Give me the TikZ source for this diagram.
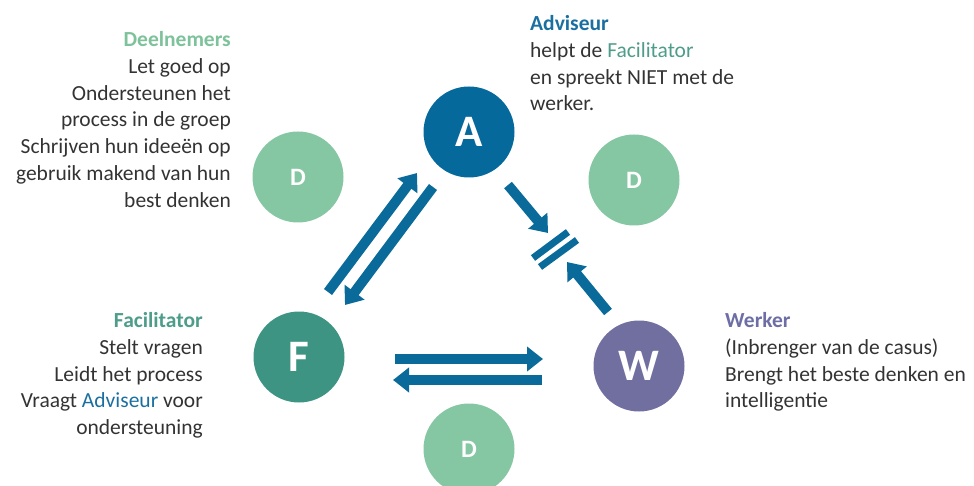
\documentclass[tikz,border=0pt]{standalone}
\usepackage{fontspec}
\setmainfont{Carlito}
\usetikzlibrary{arrows.meta}
\definecolor{cA}{HTML}{05699C}
\definecolor{cD}{HTML}{85C7A2}
\definecolor{cF}{HTML}{3E9482}
\definecolor{cW}{HTML}{716FA0}
\definecolor{cArr}{HTML}{0A6A9A}
\definecolor{txt}{HTML}{333333}
\definecolor{tD}{HTML}{7DC29B}
\definecolor{tA}{HTML}{1A6FA0}
\definecolor{tF}{HTML}{4E9C8A}
\definecolor{tW}{HTML}{6E6EA6}
\tikzset{
  bigcirc/.style={circle, minimum size=91pt, inner sep=0pt, text=white, font=\fontsize{45}{45}\selectfont\bfseries},
  smallcirc/.style={circle, fill=cD, minimum size=91pt, inner sep=0pt, text=white, font=\fontsize{25}{25}\selectfont\bfseries},
  fatarrow/.style={draw=cArr, line width=10pt, -{Triangle[width=24pt,length=16pt]}},
  bar/.style={draw=cArr, line width=7pt},
  txtblock/.style={inner sep=0pt, text=txt, font=\fontsize{21.5}{26.9}\selectfont},
}
\begin{document}
\begin{tikzpicture}[x=1pt,y=-1pt]
\useasboundingbox (0,0) rectangle (974,486);
% circles
\node[bigcirc, fill=cA] (A) at (469,132) {A};
\node[bigcirc, fill=cF] (F) at (299,357) {F};
\node[bigcirc, fill=cW] (W) at (639,366) {W};
\node[smallcirc] (D1) at (298,177) {D};
\node[smallcirc] (D2) at (634,180) {D};
\node[smallcirc] (D3) at (469,449) {D};
% arrow end points
\coordinate (fa1) at (328,292);
\coordinate (fa2) at (417,173);
\coordinate (af1) at (433,187);
\coordinate (af2) at (345,305);
\coordinate (ab1) at (508,185);
\coordinate (ab2) at (548,233);
\coordinate (wb1) at (608,312);
\coordinate (wb2) at (567,262);
\coordinate (fw1) at (395,359);
\coordinate (fw2) at (543,359);
\coordinate (wf1) at (542,380);
\coordinate (wf2) at (393,380);
\coordinate (b1a) at (533,258);
\coordinate (b1b) at (568,232);
\coordinate (b2a) at (540,267);
\coordinate (b2b) at (577,240);
\draw[fatarrow] (fa1) -- (fa2);
\draw[fatarrow] (af1) -- (af2);
\draw[fatarrow] (ab1) -- (ab2);
\draw[fatarrow] (wb1) -- (wb2);
\draw[fatarrow] (fw1) -- (fw2);
\draw[fatarrow] (wf1) -- (wf2);
\draw[bar] (b1a) -- (b1b);
\draw[bar] (b2a) -- (b2b);
% text blocks
\node[txtblock, anchor=north east, align=right] (tDeel) at (231,31) {{\bfseries\color{tD}Deelnemers}\\Let goed op\\Ondersteunen het\\process in de groep\\Schrijven hun ideeën op\\gebruik makend van hun\\best denken};
\node[txtblock, anchor=north west, align=left] (tAdv) at (530,15) {{\bfseries\color{tA}Adviseur}\\helpt de {\color{tF}Facilitator}\\en spreekt NIET met de\\werker.};
\node[txtblock, anchor=north east, align=right] (tFac) at (203,312) {{\bfseries\color{tF}Facilitator}\\Stelt vragen\\Leidt het process\\Vraagt {\color{tA}Adviseur} voor\\ondersteuning};
\node[txtblock, anchor=north west, align=left] (tWer) at (725,312) {{\bfseries\color{tW}Werker}\\(Inbrenger van de casus)\\Brengt het beste denken en\\intelligentie};
\end{tikzpicture}
\end{document}
